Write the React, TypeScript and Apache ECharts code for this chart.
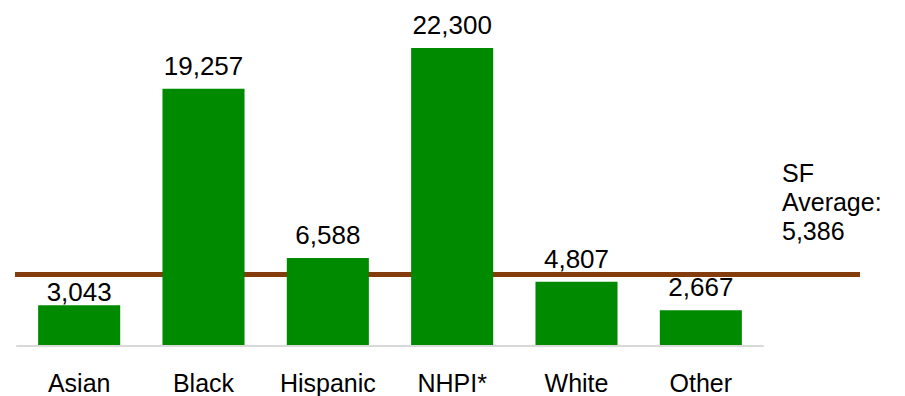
import React, { useEffect, useRef } from "react";
import * as echarts from "echarts";

const categories = ["Asian", "Black", "Hispanic", "NHPI*", "White", "Other"];
const values = [3043, 19257, 6588, 22300, 4807, 2667];
const averageValue = 5386;
const averageLabel = "SF\nAverage:\n5,386";

const FONT = "'Liberation Sans', Arial, sans-serif";
const GRID = { left: 17, right: 142, top: 12, bottom: 50 };
const Y_MAX = 25000;
const CHART_H = 396;

export default function App() {
  const ref = useRef<HTMLDivElement>(null);
  useEffect(() => {
    document.body.style.margin = "0";
    const chart = echarts.init(ref.current!, null, { renderer: "svg" });
    const plotH = CHART_H - GRID.top - GRID.bottom;
    const lineY = GRID.top + plotH * (1 - averageValue / Y_MAX);
    chart.setOption({
      animation: false,
      grid: GRID,
      xAxis: {
        type: "category",
        data: categories,
        z: 3,
        axisLine: { lineStyle: { color: "#d9d9d9", width: 2 } },
        axisTick: { show: false },
        axisLabel: { color: "#000", fontSize: 25, fontFamily: FONT, margin: 24, interval: 0 },
      },
      yAxis: {
        type: "value",
        min: 0,
        max: Y_MAX,
        show: false,
        splitLine: { show: false },
      },
      series: [
        {
          type: "bar",
          data: values,
          z: 2,
          barCategoryGap: "34%",
          clip: false,
          itemStyle: { color: "#008A00" },
          label: {
            show: true,
            position: "top",
            distance: 10,
            color: "#000",
            fontSize: 26,
            fontFamily: FONT,
            formatter: (p: any) => Number(p.value).toLocaleString("en-US"),
          },
          labelLayout: (params: any) => {
            const lr = params.labelRect;
            const glyphBottom = lr.y + lr.height - 3;
            const glyphTop = glyphBottom - 19;
            if (glyphTop < lineY + 3 && glyphBottom > lineY - 3) {
              return { dy: params.rect.y - (lr.y + lr.height) };
            }
            return {};
          },
          markLine: {
            silent: true,
            z: 1,
            symbol: "none",
            label: { show: false },
            lineStyle: { color: "#843C0C", width: 5, type: "solid" },
            data: [[{ x: 15, yAxis: averageValue }, { x: 860, yAxis: averageValue }]],
          },
        },
      ],
      graphic: [
        {
          type: "text",
          left: 782,
          top: 158,
          style: {
            text: averageLabel,
            fontSize: 25,
            lineHeight: 29,
            fontFamily: FONT,
            fill: "#000",
          },
        },
      ],
    });
    return () => chart.dispose();
  }, []);
  return <div ref={ref} style={{ width: 905, height: 396 }} />;
}
